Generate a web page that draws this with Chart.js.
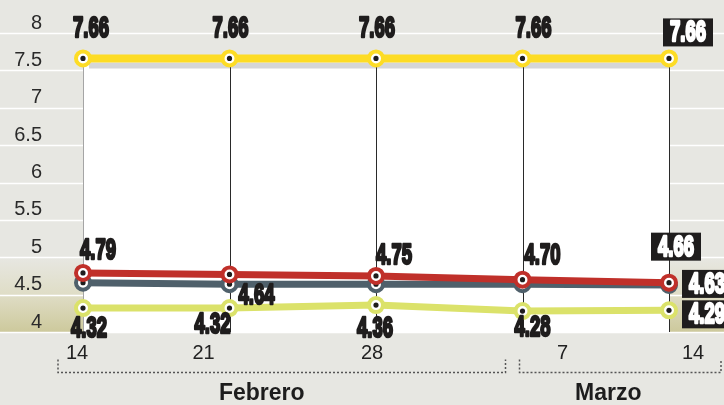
<!DOCTYPE html>
<html>
<head>
<meta charset="utf-8">
<script src="https://cdn.jsdelivr.net/npm/chart.js@4/dist/chart.umd.min.js"></script>
<style>
  html, body { margin: 0; padding: 0; background: #e7e7e2; }
  canvas { display: block; }
</style>
</head>
<body>
<canvas id="grafico" width="724" height="405"></canvas>
<script>
// semanas (eje x) y meses
const semanas = ['14', '21', '28', '7', '14'];
const meses = ['Febrero', 'Marzo'];
const inicioMes = [0, 3];

// series
const serieAmarilla = [7.66, 7.66, 7.66, 7.66, 7.66];
const serieRoja = [4.79, 4.77, 4.75, 4.70, 4.66];
const serieGris = [4.66, 4.64, 4.64, 4.64, 4.63];
const serieLima = [4.32, 4.32, 4.36, 4.28, 4.29];

// eje y
const yMin = 4;
const yMax = 8;
const yPaso = 0.5;

// posicion de las etiquetas respecto al punto [dx, dy], null = sin etiqueta
const etiquetasRoja = [[15, -23], null, [18, -21], [20, -25], [7, -36]];
const etiquetasGris = [null, [27, 11], null, null, [38, -1]];
const etiquetasLima = [[6, 20], [-17, 16], [-1, 23], [10, 16], [38, 4]];
const etiquetasAmarilla = [[8, -30], [1, -30], [1, -30], [11, -30], [19, -26]];
const desplazamientoSemanas = [-6, -26, -4, 40, 24];

const NEGRO = '#1f1d1d';
const FUENTE_NUM = 'bold 29px "Liberation Sans Narrow", "Liberation Sans", Arial, sans-serif';

function numero(ctx, txt, cx, cy, caja) {
  ctx.save();
  ctx.font = FUENTE_NUM;
  const sx = 36 / ctx.measureText('7.66').width;
  const tw = ctx.measureText(txt).width * sx;
  if (caja) {
    ctx.fillStyle = NEGRO;
    ctx.fillRect(cx - tw / 2 - 7, cy - 14, tw + 14, 28);
  }
  ctx.translate(cx, cy);
  ctx.scale(sx, 1);
  ctx.textAlign = 'center';
  ctx.textBaseline = 'middle';
  ctx.fillStyle = caja ? '#fff' : NEGRO;
  ctx.strokeStyle = ctx.fillStyle;
  ctx.lineWidth = 2.6;
  ctx.lineJoin = 'round';
  ctx.strokeText(txt, 0, 1);
  ctx.fillText(txt, 0, 1);
  ctx.restore();
}

const decorado = {
  id: 'decorado',
  beforeDraw(chart) {
    const { ctx, width, height } = chart;
    const y = chart.scales.y;
    ctx.save();
    ctx.fillStyle = '#e7e7e2';
    ctx.fillRect(0, 0, width, height);
    // banda inferior con degradado
    const y5 = y.getPixelForValue(5), y4 = y.getPixelForValue(4);
    const g = ctx.createLinearGradient(0, y5, 0, y4);
    g.addColorStop(0, '#e7e7e2');
    g.addColorStop(0.5, '#dfddc6');
    g.addColorStop(1, '#cdc99c');
    ctx.fillStyle = g;
    ctx.fillRect(0, y5, width, y4 - y5);
    // lineas horizontales blancas
    ctx.strokeStyle = '#ffffff';
    ctx.lineWidth = 1.5;
    y.ticks.forEach(t => {
      const py = Math.round(y.getPixelForValue(t.value)) + 0.5;
      ctx.beginPath();
      ctx.moveTo(0, py);
      ctx.lineTo(width, py);
      ctx.stroke();
    });
    ctx.restore();
  },
  beforeDatasetsDraw(chart) {
    const { ctx, chartArea } = chart;
    const pts = chart.getDatasetMeta(3).data;
    ctx.save();
    // sombra bajo la linea amarilla
    ctx.strokeStyle = '#d5d6d8';
    ctx.lineWidth = 6;
    ctx.beginPath();
    pts.forEach((p, i) => {
      const px = i === 0 ? p.x + 6 : p.x;
      if (i === 0) ctx.moveTo(px, p.y + 7); else ctx.lineTo(px, p.y + 7);
    });
    ctx.stroke();
    // lineas verticales
    ctx.lineWidth = 1;
    pts.forEach((p, i) => {
      ctx.strokeStyle = i === 0 ? '#a5a5a5' : '#2a2a2a';
      const px = Math.round(p.x) + 0.5;
      ctx.beginPath();
      ctx.moveTo(px, p.y);
      ctx.lineTo(px, chartArea.bottom);
      ctx.stroke();
    });
    ctx.restore();
  },
  afterDatasetDraw(chart, args) {
    const ctx = chart.ctx;
    ctx.save();
    ctx.fillStyle = NEGRO;
    args.meta.data.forEach(p => {
      ctx.beginPath();
      ctx.arc(p.x, p.y, 2.6, 0, Math.PI * 2);
      ctx.fill();
    });
    ctx.restore();
  },
  afterDatasetsDraw(chart) {
    const ctx = chart.ctx;
    chart.data.datasets.forEach((ds, di) => {
      const meta = chart.getDatasetMeta(di);
      ds.etiquetas.forEach((off, i) => {
        if (!off) return;
        const p = meta.data[i];
        const ultimo = i === ds.data.length - 1;
        numero(ctx, ds.data[i].toFixed(2), p.x + off[0], p.y + off[1], ultimo);
      });
    });
  },
  afterDraw(chart) {
    const { ctx, chartArea, width } = chart;
    const x = chart.scales.x;
    const base = chartArea.bottom;
    ctx.save();
    // semanas
    ctx.font = '20px "Liberation Sans", Arial, sans-serif';
    ctx.fillStyle = '#222';
    ctx.textAlign = 'center';
    ctx.textBaseline = 'middle';
    semanas.forEach((s, i) => {
      ctx.fillText(s, x.getPixelForValue(i) + desplazamientoSemanas[i], base + 21);
    });
    // llaves de los meses
    const limites = [
      [x.getPixelForValue(inicioMes[0]) - 25, x.getPixelForValue(inicioMes[1]) - 17],
      [x.getPixelForValue(inicioMes[1]) - 3, width - 3]
    ];
    const ajusteNombre = [-20, -12];
    ctx.strokeStyle = '#555';
    ctx.lineWidth = 1.5;
    ctx.setLineDash([2, 2]);
    limites.forEach(([a, b]) => {
      const yl = base + 40.5;
      ctx.beginPath();
      ctx.moveTo(a, yl - 13);
      ctx.lineTo(a, yl);
      ctx.lineTo(b, yl);
      ctx.lineTo(b, yl - 13);
      ctx.stroke();
    });
    ctx.setLineDash([]);
    ctx.font = 'bold 23px "Liberation Sans", Arial, sans-serif';
    ctx.fillStyle = '#1d1d1d';
    limites.forEach(([a, b], m) => {
      ctx.fillText(meses[m], (a + b) / 2 + ajusteNombre[m], base + 62);
    });
    ctx.restore();
  }
};

const linea = (datos, color, etiquetas, ancho) => ({
  data: datos,
  etiquetas: etiquetas,
  borderColor: color,
  borderWidth: ancho,
  pointRadius: 7,
  pointBorderWidth: 4,
  pointBorderColor: color,
  pointBackgroundColor: '#fff',
  tension: 0,
  fill: false
});

const amarilla = linea(serieAmarilla, '#fddc25', etiquetasAmarilla, 8);
amarilla.fill = 'start';
amarilla.backgroundColor = '#ffffff';

new Chart(document.getElementById('grafico'), {
  type: 'line',
  data: {
    labels: semanas,
    datasets: [
      linea(serieRoja, '#c0302a', etiquetasRoja, 7),
      linea(serieGris, '#4f606b', etiquetasGris, 7),
      linea(serieLima, '#dbe26a', etiquetasLima, 7),
      amarilla
    ]
  },
  options: {
    responsive: false,
    animation: false,
    devicePixelRatio: 1,
    layout: { padding: { top: 33, right: 55, bottom: 73, left: 0 } },
    plugins: {
      legend: { display: false },
      tooltip: { enabled: false },
      filler: { drawTime: 'beforeDatasetsDraw' }
    },
    scales: {
      x: { display: false },
      y: {
        min: yMin,
        max: yMax,
        border: { display: false },
        grid: { display: false, drawTicks: false },
        ticks: {
          stepSize: yPaso,
          padding: 41,
          labelOffset: -10,
          color: '#2a2a2a',
          font: { family: '"Liberation Sans", Arial, sans-serif', size: 20 },
          callback: v => String(v)
        },
        afterFit(scale) {
          scale.width = 83;
          scale.paddingTop = 12;
          scale.paddingBottom = 12;
        }
      }
    }
  },
  plugins: [decorado]
});
</script>
</body>
</html>
